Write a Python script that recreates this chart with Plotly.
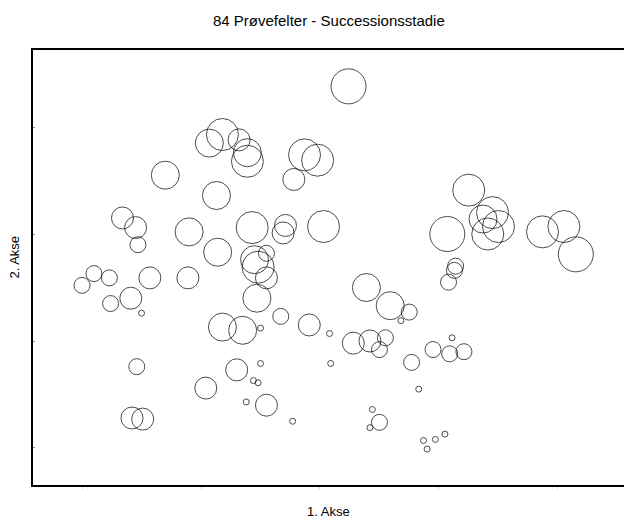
import plotly.graph_objects as go

# ordination scores (1. Akse, 2. Akse) and succession stage per plot
akse1 = [-1.30, -0.93, -0.82, -0.68, -0.61, -0.61, -0.13, -0.02, -0.22, -0.87,
         -1.66, -1.55, -1.53, -1.10, -0.57, -0.29, -0.31, 0.03, -0.86, -0.45,
         -0.55, -0.52, -0.45, -1.90, -1.77, -2.00, -1.43, -1.11, -1.76, -1.59,
         -1.50, -0.53, -0.33, -0.82, -0.65, -0.50, -0.09, -1.54, -0.70, -0.50,
         -0.96, -0.56, -0.52, -0.62, -0.45, -0.23, -1.58, -1.49, 0.24, 1.25,
         1.37, 1.45, 1.50, 1.41, 1.07, 1.87, 2.05, 2.15, 1.14, 1.13,
         1.08, 0.39, 0.59, 0.75, 0.68, 0.08, 0.09, 0.28, 0.42, 0.55,
         0.50, 0.77, 0.95, 1.09, 1.21, 1.11, 0.83, 0.44, 0.50, 0.42,
         0.87, 0.90, 0.97, 1.05]
akse2 = [0.55, 0.85, 0.93, 0.88, 0.76, 0.68, 0.74, 0.69, 0.51, 0.36,
         0.15, 0.06, -0.10, 0.02, 0.06, 0.08, 0.01, 0.07, -0.17, -0.18,
         -0.24, -0.31, -0.41, -0.37, -0.41, -0.48, -0.41, -0.41, -0.65, -0.60,
         -0.74, -0.60, -0.77, -0.87, -0.90, -0.88, -0.85, -1.24, -1.27, -1.21,
         -1.44, -1.37, -1.39, -1.57, -1.60, -1.75, -1.72, -1.73, 1.38, 0.41,
         0.14, 0.20, 0.07, 0.00, 0.00, 0.02, 0.07, -0.19, -0.30, -0.34,
         -0.45, -0.50, -0.67, -0.73, -0.81, -0.93, -1.21, -1.02, -1.00, -0.97,
         -1.08, -1.20, -1.08, -1.12, -1.10, -0.97, -1.45, -1.64, -1.76, -1.81,
         -1.93, -2.01, -1.92, -1.87]
stadie = [4, 4, 5, 3, 4, 5, 5, 5, 3, 4,
          3, 3, 2, 4, 5, 3, 3, 5, 4, 2,
          4, 5, 3, 2, 2, 2, 3, 3, 2, 3,
          1, 4, 2, 4, 4, 1, 3, 2, 3, 1,
          3, 1, 1, 1, 3, 1, 3, 3, 6, 5,
          4, 5, 5, 5, 6, 5, 5, 6, 2, 2,
          2, 4, 4, 2, 1, 1, 1, 3, 3, 2,
          2, 2, 2, 2, 2, 1, 1, 1, 2, 1,
          1, 1, 1, 1]
stage_diam = {1: 6, 2: 16, 3: 22, 4: 28, 5: 32, 6: 35}

x_ticks = [-2, -1, 0, 1, 2]
y_ticks = [-2, -1, 0, 1]

fig = go.Figure()
fig.add_trace(go.Scatter(
    x=akse1, y=akse2, mode="markers",
    marker=dict(size=[stage_diam[s] for s in stadie], color="rgba(0,0,0,0)",
                line=dict(color="black", width=1)),
    hoverinfo="skip", showlegend=False,
))

fam = "Liberation Sans, Arial, sans-serif"
fig.update_layout(
    width=624, height=522,
    margin=dict(l=33, r=0, t=50, b=37),
    paper_bgcolor="white", plot_bgcolor="white",
    font=dict(family=fam, size=13, color="black"),
    xaxis=dict(range=[-2.412, 2.555], showgrid=False, zeroline=False,
               showline=True, linecolor="black", linewidth=1.5, mirror=True,
               tickvals=x_ticks, ticks="outside", ticklen=2, tickcolor="#cccccc",
               showticklabels=False),
    yaxis=dict(range=[-2.346, 1.720], showgrid=False, zeroline=False,
               showline=True, linecolor="black", linewidth=1.5, mirror=False,
               tickvals=y_ticks, ticks="inside", ticklen=2, tickcolor="#888888",
               showticklabels=False),
    annotations=[
        dict(text="84 Prøvefelter - Successionsstadie", xref="paper", yref="paper",
             x=0.5, y=1.0667, xanchor="center", yanchor="middle", showarrow=False,
             font=dict(family=fam, size=15, color="black")),
        dict(text="1. Akse", xref="paper", yref="paper",
             x=0.5, y=-0.0609, xanchor="center", yanchor="middle", showarrow=False,
             font=dict(family=fam, size=13, color="black")),
        dict(text="2. Akse", xref="paper", yref="paper", textangle=-90,
             x=-0.032, y=0.523, xanchor="center", yanchor="middle", showarrow=False,
             font=dict(family=fam, size=13, color="black")),
    ],
)

fig.write_html("out.html")
